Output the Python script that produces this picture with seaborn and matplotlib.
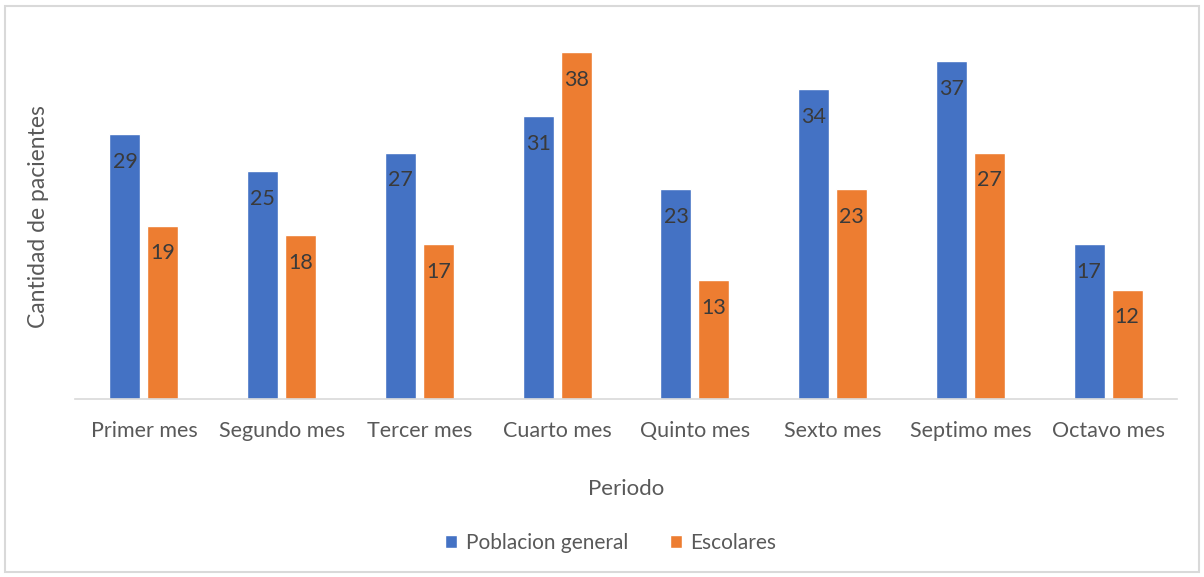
import numpy as np
import pandas as pd

import matplotlib
matplotlib.use('Agg')

import matplotlib.pyplot as plt
import seaborn as sns
from matplotlib.patches import Rectangle

periodos = ["Primer mes", "Segundo mes", "Tercer mes", "Cuarto mes",
            "Quinto mes", "Sexto mes", "Septimo mes", "Octavo mes"]
poblacion_general = [29, 25, 27, 31, 23, 34, 37, 17]
escolares = [19, 18, 17, 38, 13, 23, 27, 12]
series = ["Poblacion general", "Escolares"]
colores = ["#4472C4", "#ED7D31"]

df = pd.DataFrame({
    "Periodo": periodos * 2,
    "Valor": poblacion_general + escolares,
    "Serie": [series[0]] * len(periodos) + [series[1]] * len(periodos),
})

sns.set_style("white")
plt.rcParams['font.family'] = ['Lato', 'DejaVu Sans']

fig = plt.figure(figsize=(12.04, 5.77), dpi=100)
ax = fig.add_axes([0.0623, 0.3085, 0.9153, 0.6325])

sns.barplot(data=df, x="Periodo", y="Valor", hue="Serie", palette=colores,
            saturation=1, width=0.55, gap=0.18, ax=ax, legend=True)

# value labels inside the bars, near the top
for cont in ax.containers:
    for bar in cont:
        h = bar.get_height()
        ax.annotate(f"{int(h)}", (bar.get_x() + bar.get_width() / 2, h),
                    xytext=(0, -20), textcoords="offset points",
                    ha="center", va="center", fontsize=15.5, color="#3a3a3a")

ax.set_ylim(0, 40)
ax.set_yticks([])
ax.set_xlim(-0.5, len(periodos) - 0.5)
for s in ["top", "right", "left"]:
    ax.spines[s].set_visible(False)
ax.spines["bottom"].set_color("#d9d9d9")
ax.spines["bottom"].set_linewidth(1.2)
ax.tick_params(axis="x", length=0, pad=16, labelsize=15.5, labelcolor="#595959")

ax.set_xlabel("Periodo", fontsize=16, color="#595959")
ax.xaxis.set_label_coords(0.5, -0.218)
ax.set_ylabel("Cantidad de pacientes", fontsize=16.5, color="#595959")
ax.yaxis.set_label_coords(-0.024, 0.5)

ax.legend(loc="center", bbox_to_anchor=(0.486, -0.395), ncol=2, frameon=False,
          fontsize=15, labelcolor="#595959", handlelength=0.6, handleheight=0.6,
          columnspacing=2.0, handletextpad=0.4)

fig.patches.append(Rectangle((5 / 1204, 5 / 577), 1194 / 1204, 566 / 577,
                             transform=fig.transFigure, fill=False,
                             edgecolor="#d9d9d9", linewidth=1.5))

plt.savefig("out.png", dpi=100)
plt.close()
